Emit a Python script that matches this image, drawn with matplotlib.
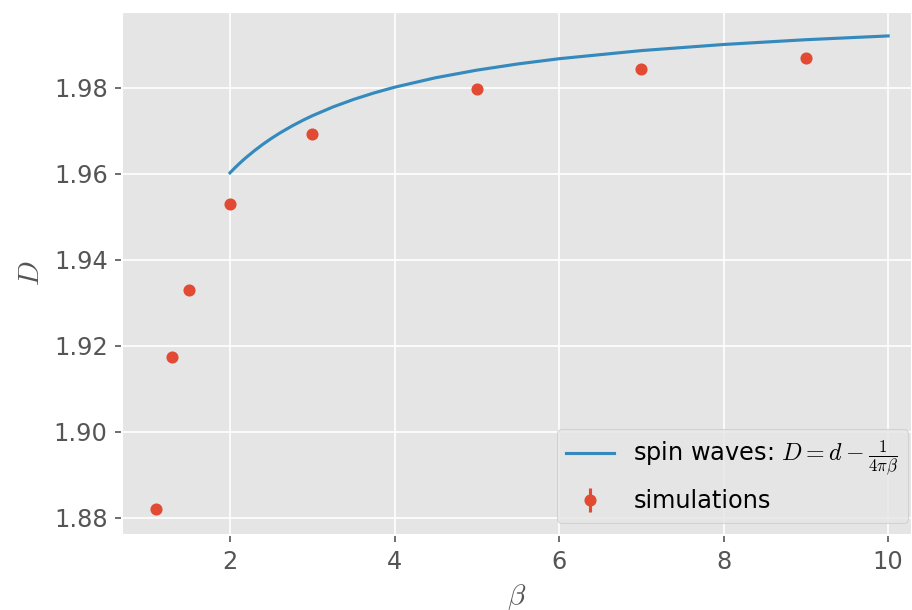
import numpy as np
import matplotlib
matplotlib.use('Agg')
import matplotlib.pyplot as plt

plt.style.use('ggplot')
plt.rcParams['mathtext.fontset'] = 'cm'

# spin-wave curve
beta_sw = [2.0, 2.05, 2.1, 2.15, 2.2, 2.3, 2.4, 2.5, 2.6, 2.75, 2.9, 3.0, 3.25, 3.5, 3.75,
           4.0, 4.5, 5.0, 5.5, 6.0, 7.0, 8.0, 9.0, 10.0]
D_sw = [1.96021, 1.96118, 1.96211, 1.96299, 1.96383, 1.96540, 1.96684, 1.96817, 1.96939,
        1.97106, 1.97256, 1.97347, 1.97551, 1.97726, 1.97878, 1.98011, 1.98232, 1.98408,
        1.98553, 1.98674, 1.98863, 1.99005, 1.99116, 1.99204]

# simulation points
beta_sim = [1.1, 1.3, 1.5, 2.0, 3.0, 5.0, 7.0, 9.0]
D_sim = [1.8821, 1.9173, 1.9329, 1.9529, 1.9692, 1.9797, 1.9843, 1.9869]
D_err = [0.0008, 0.0003, 0.0003, 0.0003, 0.0002, 0.0002, 0.0002, 0.0002]

BLUE = '#348ABD'
RED = '#E24A33'

fig = plt.figure(figsize=(6.08, 4.0667), dpi=150)
ax = fig.add_axes([0.134, 0.123, 0.866, 0.858])

ax.plot(beta_sw, D_sw, color=BLUE, lw=1.5,
        label=r'spin waves: $D = d - \frac{1}{4\pi\beta}$')
ax.errorbar(beta_sim, D_sim, yerr=D_err, fmt='o', color=RED, ms=4.8,
            elinewidth=1.5, label='simulations')

ax.set_xlim(0.69, 10.29)
ax.set_ylim(1.876, 1.9977)
ax.set_xticks([2, 4, 6, 8, 10])
ax.set_yticks([1.88, 1.90, 1.92, 1.94, 1.96, 1.98])
ax.tick_params(labelsize=11.5)
ax.set_xlabel(r'$\beta$', fontsize=14)
ax.set_ylabel(r'$D$', fontsize=14)
ax.legend(loc='lower right', fontsize=11.5, bbox_to_anchor=(1.01, 0.0))

fig.savefig('out.png', dpi=150)
